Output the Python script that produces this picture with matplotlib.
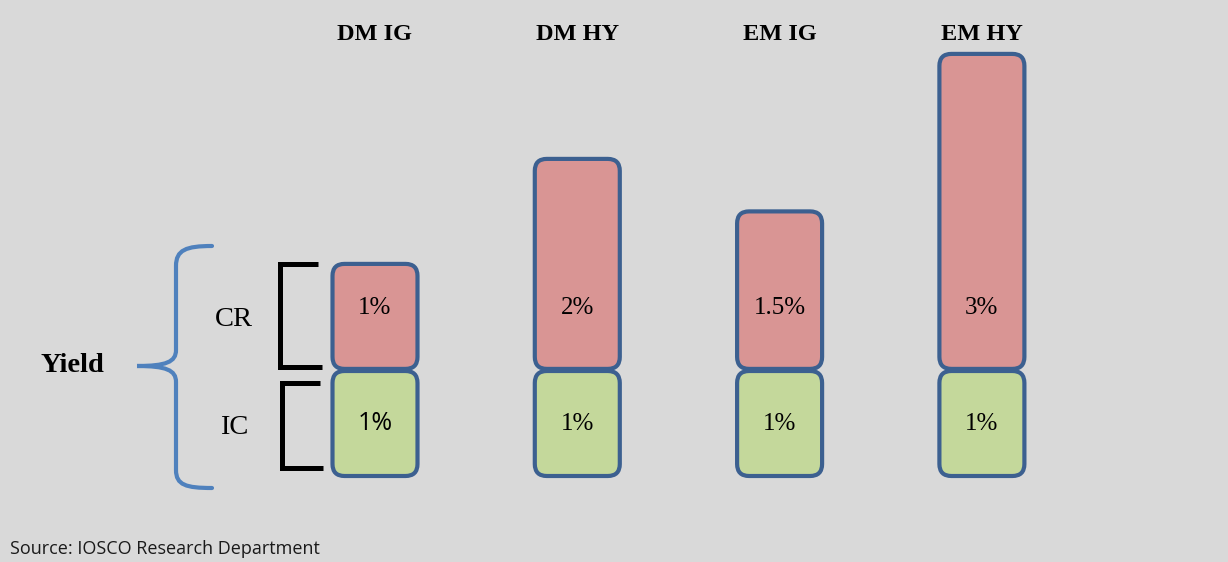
import matplotlib
matplotlib.use("Agg")
import matplotlib.pyplot as plt
from matplotlib.patches import FancyBboxPatch, PathPatch
from matplotlib.path import Path

# ---------------- DATA ---------------- #
categories = ["DM IG", "DM HY", "EM IG", "EM HY"]
ic_values = [1.0, 1.0, 1.0, 1.0]        # interest component (%)
cr_values = [1.0, 2.0, 1.5, 3.0]        # credit risk component (%)
ic_labels = ["1%", "1%", "1%", "1%"]
cr_labels = ["1%", "2%", "1.5%", "3%"]

# ---------------- STYLE ---------------- #
BG = "#d9d9d9"
RED = "#d99594"
GREEN = "#c4d89b"
EDGE = "#3c6090"
BRACE = "#4f81bd"
SERIF = "Liberation Serif"
SANS = "Open Sans"

W, H = 1228, 562
PX_X = 202.3   # pixels per category step
PX_Y = 105.0   # pixels per 1 %
X0, Y0 = 375, 476   # pixel of first category centre / baseline

fig = plt.figure(figsize=(W / 100, H / 100), dpi=100, facecolor=BG)
ax = fig.add_axes([0, 0, 1, 1])
ax.set_facecolor(BG)
ax.set_xlim(-X0 / PX_X, (W - X0) / PX_X)
ax.set_ylim(-(H - Y0) / PX_Y, Y0 / PX_Y)
ax.axis("off")

# overlay in pixel units for brackets / labels
ov = fig.add_axes([0, 0, 1, 1], facecolor="none")
ov.set_xlim(0, W)
ov.set_ylim(H, 0)
ov.axis("off")

bar_w = 85 / PX_X
rad = 12 / PX_X
aspect = PX_X / PX_Y

for i, cat in enumerate(categories):
    x = i - bar_w / 2
    ic = ic_values[i]
    cr = cr_values[i]
    ax.add_patch(FancyBboxPatch((x, 0), bar_w, ic,
                                boxstyle=f"round,pad=0,rounding_size={rad}",
                                mutation_aspect=aspect, fc=GREEN, ec=EDGE, lw=3, zorder=2))
    ax.add_patch(FancyBboxPatch((x, ic + 0.02), bar_w, cr,
                                boxstyle=f"round,pad=0,rounding_size={rad}",
                                mutation_aspect=aspect, fc=RED, ec=EDGE, lw=3, zorder=2))
    if i == 0:
        ax.text(i, ic / 2, ic_labels[i], ha="center", va="center",
                fontsize=18, family=[SANS], zorder=3)
    else:
        ax.text(i, ic / 2, ic_labels[i], ha="center", va="center",
                fontsize=18, family=[SERIF], zorder=3)
    ax.text(i, ic + 0.6, cr_labels[i], ha="center", va="center",
            fontsize=18, family=[SERIF], zorder=3)
    ax.text(i, 4.2, cat, ha="center", va="center", fontsize=17.5,
            fontweight="bold", family=[SERIF])

# ---------------- BRACKETS ---------------- #
ov.plot([318, 280, 280, 322], [264, 264, 367, 367], color="black", lw=3.6,
        solid_joinstyle="miter", solid_capstyle="butt")
ov.plot([320, 282, 282, 323], [383, 383, 468, 468], color="black", lw=3.6,
        solid_joinstyle="miter", solid_capstyle="butt")

verts = [(212, 246), (186, 246), (176, 250), (176, 266),
         (176, 350),
         (176, 362), (166, 366), (137, 366),
         (166, 366), (176, 370), (176, 382),
         (176, 470),
         (176, 485), (186, 488), (212, 488)]
codes = [Path.MOVETO, Path.CURVE4, Path.CURVE4, Path.CURVE4,
         Path.LINETO,
         Path.CURVE4, Path.CURVE4, Path.CURVE4,
         Path.CURVE4, Path.CURVE4, Path.CURVE4,
         Path.LINETO,
         Path.CURVE4, Path.CURVE4, Path.CURVE4]
ov.add_patch(PathPatch(Path(verts, codes), fc="none", ec=BRACE, lw=3,
                       capstyle="round"))

ov.text(72, 365, "Yield", ha="center", va="center", fontsize=20.5,
        fontweight="bold", family=[SERIF])
ov.text(234, 320, "CR", ha="center", va="center", fontsize=20.5, family=[SERIF])
ov.text(234, 427, "IC", ha="center", va="center", fontsize=20.5, family=[SERIF])

ov.text(10, 549, "Source: IOSCO Research Department", ha="left", va="center",
        fontsize=13, family=[SANS], color="#1a1a1a")

fig.savefig("out.png", dpi=100, facecolor=BG)
